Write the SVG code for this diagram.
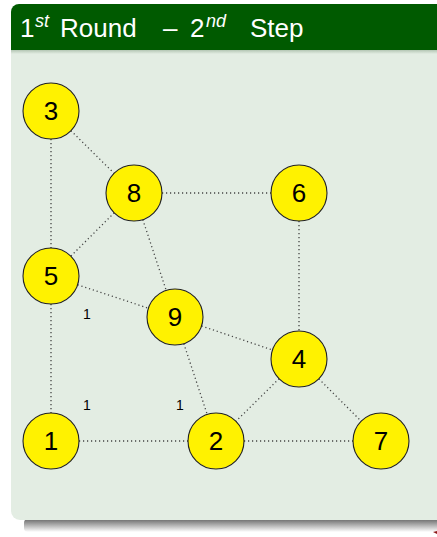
<svg xmlns="http://www.w3.org/2000/svg" width="437" height="537" viewBox="0 0 437 537">
<style>
.node circle{fill:#fff200;stroke:#222;stroke-width:1.1}
.node text{font-family:"Liberation Sans",Arial,sans-serif;font-size:26px;fill:#000;text-anchor:middle}
.edges line{stroke:#444;stroke-width:1.3;stroke-dasharray:1.2 2.8}
.lbl{font-family:"Liberation Sans",Arial,sans-serif;font-size:14px;fill:#000;text-anchor:middle}
.title{font-family:"Liberation Sans",Arial,sans-serif;font-size:26px;fill:#fff}
.sup{font-size:18px;font-style:italic}
</style>
<defs>
<linearGradient id="shadow" x1="0" y1="0" x2="0" y2="1">
<stop offset="0" stop-color="#6a6a6a"/>
<stop offset="1" stop-color="#ffffff"/>
</linearGradient>
<linearGradient id="tshadow" x1="0" y1="0" x2="0" y2="1">
<stop offset="0" stop-color="#b4c6b4"/>
<stop offset="1" stop-color="#e3ede3"/>
</linearGradient>
</defs>
<rect width="437" height="537" fill="#ffffff"/>
<rect x="24" y="519" width="420" height="13" rx="4" fill="url(#shadow)"/>
<path d="M11,50 H437 V520 H20 A9,9 0 0 1 11,511 Z" fill="#e3ede3"/>
<rect x="11" y="50" width="426" height="4" fill="url(#tshadow)"/>
<path d="M11,50 V12 A8,8 0 0 1 19,4 H437 V50 Z" fill="#005a00"/>
<text class="title" y="37"><tspan x="20">1</tspan><tspan class="sup" x="35" y="27">st</tspan><tspan x="60" y="37">Round</tspan><tspan x="163">–</tspan><tspan x="190">2</tspan><tspan class="sup" x="206" y="27">nd</tspan><tspan x="250" y="37">Step</tspan></text>
<polygon points="433,532 437,531 437,534" fill="#8b1a1a"/>
<g class="edges" id="edges">
<line x1="51" y1="111" x2="51" y2="276"/>
<line x1="51" y1="111" x2="134" y2="193"/>
<line x1="134" y1="193" x2="299" y2="193"/>
<line x1="134" y1="193" x2="51" y2="276"/>
<line x1="134" y1="193" x2="175" y2="317"/>
<line x1="51" y1="276" x2="175" y2="317"/>
<line x1="51" y1="276" x2="51" y2="441"/>
<line x1="175" y1="317" x2="299" y2="359"/>
<line x1="175" y1="317" x2="216" y2="441"/>
<line x1="299" y1="193" x2="299" y2="359"/>
<line x1="299" y1="359" x2="216" y2="441"/>
<line x1="299" y1="359" x2="381" y2="441"/>
<line x1="51" y1="441" x2="216" y2="441"/>
<line x1="216" y1="441" x2="381" y2="441"/>
</g>
<g id="labels">
<text class="lbl" x="87" y="319">1</text>
<text class="lbl" x="87" y="410">1</text>
<text class="lbl" x="180" y="410">1</text>
</g>
<g class="node" id="n3"><circle cx="51" cy="111" r="28"/><text x="51" y="120">3</text></g>
<g class="node" id="n8"><circle cx="134" cy="193" r="28"/><text x="134" y="202">8</text></g>
<g class="node" id="n6"><circle cx="299" cy="193" r="28"/><text x="299" y="202">6</text></g>
<g class="node" id="n5"><circle cx="51" cy="276" r="28"/><text x="51" y="285">5</text></g>
<g class="node" id="n9"><circle cx="175" cy="317" r="28"/><text x="175" y="326">9</text></g>
<g class="node" id="n4"><circle cx="299" cy="359" r="28"/><text x="299" y="368">4</text></g>
<g class="node" id="n1"><circle cx="51" cy="441" r="28"/><text x="51" y="450">1</text></g>
<g class="node" id="n2"><circle cx="216" cy="441" r="28"/><text x="216" y="450">2</text></g>
<g class="node" id="n7"><circle cx="381" cy="441" r="28"/><text x="381" y="450">7</text></g>
</svg>
